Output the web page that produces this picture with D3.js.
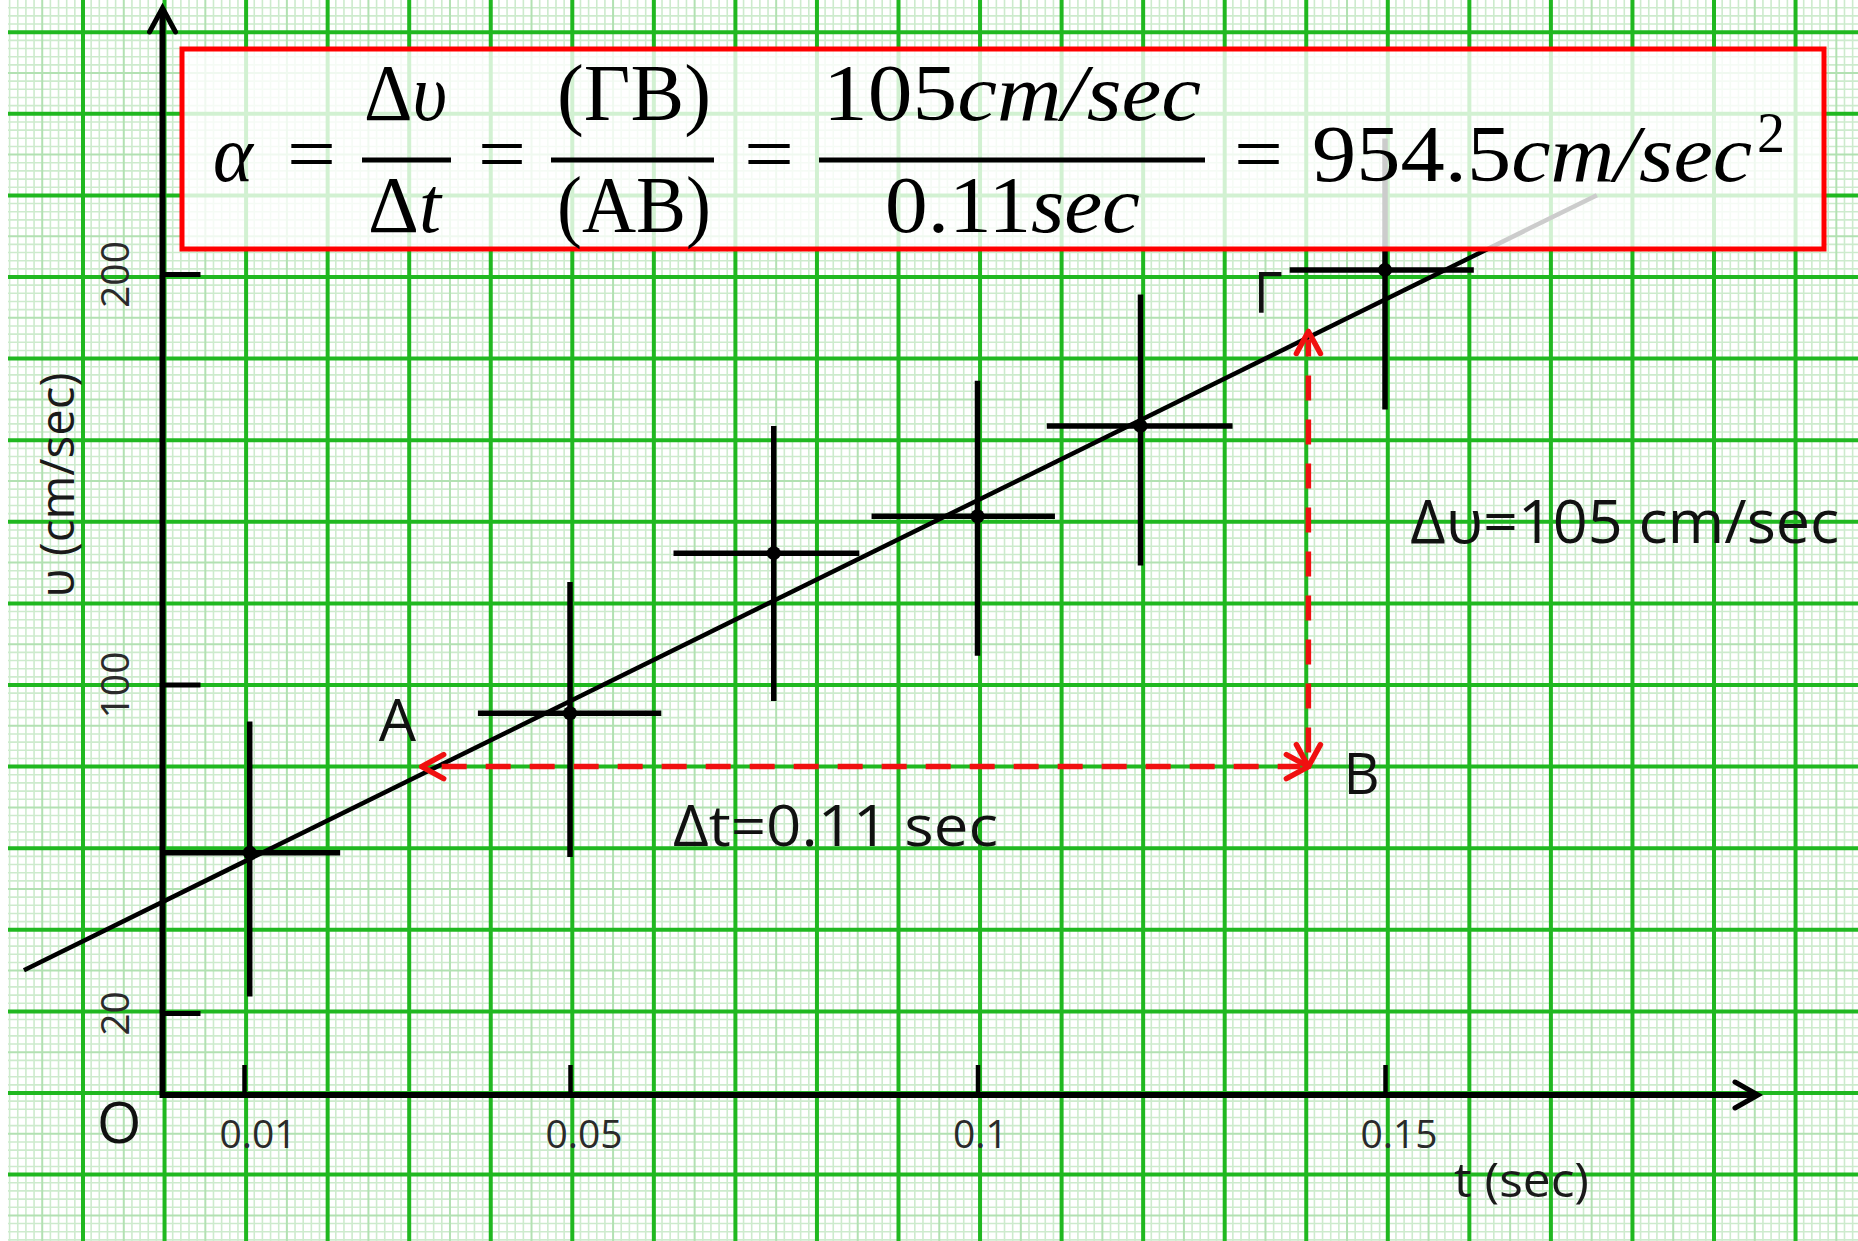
<!DOCTYPE html>
<html><head><meta charset="utf-8">
<script src="https://cdn.jsdelivr.net/npm/d3@7/dist/d3.min.js"></script>
<style>html,body{margin:0;padding:0;background:#fff;} svg{display:block;}</style>
</head><body>
<svg id="chart" width="1858" height="1241"></svg>
<script>
// ---------- data ----------
const times  = [0.0107, 0.05, 0.075, 0.1, 0.12, 0.15];
const speeds = [59, 93, 132, 141, 163, 201];
const tLow   = [0.0, 0.0387, 0.0627, 0.087, 0.1085, 0.1383];
const tHigh  = [0.0218, 0.0612, 0.0855, 0.1095, 0.1313, 0.1609];
const vLow   = [24, 58, 96, 107, 129, 167];
const vHigh  = [91, 125, 163, 174, 195, 233];
const fitT   = [-0.017, 0.176];
const fitV   = [30.4, 219.2];
const xTicks = [0.01, 0.05, 0.1, 0.15];
const xTickLabels = ["0.01", "0.05", "0.1", "0.15"];
const yTicks = [20, 100, 200];
const yTickLabels = ["20", "100", "200"];
const triT = [0.0318, 0.1406, 0.1406];   // A, B, Γ-side
const triV = [80, 80, 186];
const triNames = ["A", "B", "Γ"];
const dvLabel = "Δυ=105 cm/sec";
const dtLabel = "Δt=0.11 sec";
const xTitle = "t (sec)";
const yTitle = "υ (cm/sec)";

// ---------- setup ----------
const W = 1858, H = 1241;
const svg = d3.select("#chart");
const x = d3.scaleLinear().domain([0, 0.2]).range([162.5, 162.5 + 1630]);
const y = d3.scaleLinear().domain([0, 260]).range([1095, 1095 - 260 * 4.105]);
const sans = "'Open Sans', 'Noto Sans', sans-serif";
const serif = "'Liberation Serif', 'Times New Roman', serif";

// ---------- graph paper ----------
const paper = svg.append("g");
paper.append("rect").attr("width", W).attr("height", H).attr("fill", "#fff");
const left = 8, px0 = 83, py0 = 1093, pitchX = 81.55, pitchY = 81.6;
const gx = {minor: [], medium: [], major: []}, gy = {minor: [], medium: [], major: []};
for (let i = -20; i < 260; i++) {
  const xx = px0 + i * pitchX / 10;
  if (xx < left || xx > W) continue;
  (i % 10 === 0 ? gx.major : (i % 5 === 0 ? gx.medium : gx.minor)).push(xx);
}
for (let i = -40; i < 160; i++) {
  const yy = py0 - i * pitchY / 10;
  if (yy < 0 || yy > H) continue;
  (i % 10 === 0 ? gy.major : (i % 5 === 0 ? gy.medium : gy.minor)).push(yy);
}
const gstyle = {minor: ["#cdebcd", 1.6], medium: ["#b2e1b2", 2], major: ["#20b820", 4]};
["minor", "medium", "major"].forEach(k => {
  paper.selectAll(null).data(gx[k]).enter().append("line")
    .attr("x1", d => d).attr("x2", d => d).attr("y1", 0).attr("y2", H)
    .attr("stroke", gstyle[k][0]).attr("stroke-width", gstyle[k][1]);
  paper.selectAll(null).data(gy[k]).enter().append("line")
    .attr("x1", left).attr("x2", W).attr("y1", d => d).attr("y2", d => d)
    .attr("stroke", gstyle[k][0]).attr("stroke-width", gstyle[k][1]);
});

// ---------- fit line & data ----------
const plot = svg.append("g");
plot.append("path")
  .datum(fitT.map((t, i) => [t, fitV[i]]))
  .attr("d", d3.line().x(d => x(d[0])).y(d => y(d[1])))
  .attr("stroke", "#000").attr("stroke-width", 4.5).attr("fill", "none");
const pts = times.map((t, i) => ({t, v: speeds[i], tl: tLow[i], th: tHigh[i], vl: vLow[i], vh: vHigh[i]}));
plot.selectAll(".ev").data(pts).enter().append("line")
  .attr("x1", d => x(d.t)).attr("x2", d => x(d.t)).attr("y1", d => y(d.vl)).attr("y2", d => y(d.vh))
  .attr("stroke", "#000").attr("stroke-width", 5.5);
plot.selectAll(".eh").data(pts).enter().append("line")
  .attr("x1", d => x(d.tl)).attr("x2", d => x(d.th)).attr("y1", d => y(d.v)).attr("y2", d => y(d.v))
  .attr("stroke", "#000").attr("stroke-width", 5.5);
plot.selectAll(".pt").data(pts).enter().append("circle")
  .attr("cx", d => x(d.t)).attr("cy", d => y(d.v)).attr("r", 7).attr("fill", "#000");

// ---------- axes ----------
const ax = svg.append("g");
const x0 = x(0), y0 = y(0);
ax.append("line").attr("x1", x0).attr("x2", 1758).attr("y1", y0).attr("y2", y0)
  .attr("stroke", "#000").attr("stroke-width", 6);
ax.append("line").attr("x1", x0).attr("x2", x0).attr("y1", y0 + 3).attr("y2", 9)
  .attr("stroke", "#000").attr("stroke-width", 6);
ax.append("path").attr("d", `M1735,${y0 - 13} L1758,${y0} L1735,${y0 + 13}`)
  .attr("fill", "none").attr("stroke", "#000").attr("stroke-width", 5).attr("stroke-linecap", "round");
ax.append("path").attr("d", `M${x0 - 13},32 L${x0},8 L${x0 + 13},32`)
  .attr("fill", "none").attr("stroke", "#000").attr("stroke-width", 5).attr("stroke-linecap", "round");

const xAxis = d3.axisBottom(x).tickValues(xTicks).tickFormat((d, i) => xTickLabels[i]).tickSize(-30);
const xg = ax.append("g").attr("transform", `translate(0,${y0})`).call(xAxis);
xg.select(".domain").remove();
xg.selectAll(".tick line").attr("stroke", "#000").attr("stroke-width", 4.5);
xg.selectAll(".tick text").attr("font-family", sans).attr("font-size", 39).attr("fill", "#2a2a2a")
  .attr("text-anchor", "start").attr("x", -25).attr("y", 53).attr("dy", 0);

const yAxis = d3.axisLeft(y).tickValues(yTicks).tickFormat((d, i) => yTickLabels[i]).tickSize(-38);
const yg = ax.append("g").attr("transform", `translate(${x0},0)`).call(yAxis);
yg.select(".domain").remove();
yg.selectAll(".tick line").attr("stroke", "#000").attr("stroke-width", 5);
yg.selectAll(".tick text").attr("font-family", sans).attr("font-size", 39).attr("fill", "#2a2a2a")
  .attr("text-anchor", "middle").attr("transform", "rotate(-90)").attr("x", 0).attr("y", -34).attr("dy", 0);

ax.append("text").text("O").attr("x", 97).attr("y", 1143)
  .attr("font-family", sans).attr("font-size", 57).attr("fill", "#111");
ax.append("text").text(xTitle).attr("x", 1454).attr("y", 1197)
  .attr("font-family", sans).attr("font-size", 48).attr("fill", "#1a1a1a")
  .attr("textLength", 135).attr("lengthAdjust", "spacingAndGlyphs");
ax.append("text").text(yTitle).attr("transform", "translate(74,485) rotate(-90)")
  .attr("text-anchor", "middle")
  .attr("font-family", sans).attr("font-size", 47).attr("fill", "#1a1a1a")
  .attr("textLength", 225).attr("lengthAdjust", "spacingAndGlyphs");

// ---------- slope triangle ----------
const red = "#f01010";
const ann = svg.append("g");
const A = {t: triT[0], v: triV[0]}, B = {t: triT[1], v: triV[1]}, G = {t: triT[2], v: triV[2]};
ann.append("line").attr("x1", x(A.t) + 8).attr("x2", x(B.t) - 8).attr("y1", y(A.v)).attr("y2", y(B.v))
  .attr("stroke", red).attr("stroke-width", 5.5).attr("stroke-dasharray", "25 19").attr("stroke-dashoffset", -12);
ann.append("line").attr("x1", x(B.t)).attr("x2", x(G.t)).attr("y1", y(B.v) - 8).attr("y2", y(G.v) + 8)
  .attr("stroke", red).attr("stroke-width", 5.5).attr("stroke-dasharray", "25 19").attr("stroke-dashoffset", -6);
const chev = [
  `M${x(A.t) + 22},${y(A.v) - 12} L${x(A.t)},${y(A.v)} L${x(A.t) + 22},${y(A.v) + 12}`,
  `M${x(B.t) - 22},${y(B.v) - 12} L${x(B.t)},${y(B.v)} L${x(B.t) - 22},${y(B.v) + 12}`,
  `M${x(B.t) - 12},${y(B.v) - 22} L${x(B.t)},${y(B.v)} L${x(B.t) + 12},${y(B.v) - 22}`,
  `M${x(G.t) - 12},${y(G.v) + 22} L${x(G.t)},${y(G.v)} L${x(G.t) + 12},${y(G.v) + 22}`
];
ann.selectAll(".chev").data(chev).enter().append("path").attr("d", d => d)
  .attr("fill", "none").attr("stroke", red).attr("stroke-width", 5.5)
  .attr("stroke-linecap", "round").attr("stroke-linejoin", "round");

const nameOffsets = [[-43, -26, 59], [35, 27, 56], [-55, -18, 56]];
ann.selectAll(".nm").data(triNames).enter().append("text").text(d => d)
  .attr("x", (d, i) => x(triT[i]) + nameOffsets[i][0])
  .attr("y", (d, i) => y(triV[i]) + nameOffsets[i][1])
  .attr("font-family", sans).attr("font-size", (d, i) => nameOffsets[i][2]).attr("fill", "#111");
ann.append("text").text(dvLabel).attr("x", x(B.t) + 102).attr("y", 543)
  .attr("font-family", sans).attr("font-size", 60).attr("fill", "#111")
  .attr("textLength", 429).attr("lengthAdjust", "spacingAndGlyphs");
ann.append("text").text(dtLabel).attr("x", 673).attr("y", 846)
  .attr("font-family", sans).attr("font-size", 57).attr("fill", "#111")
  .attr("textLength", 325).attr("lengthAdjust", "spacingAndGlyphs");

// ---------- formula box ----------
const box = svg.append("g");
box.append("rect").attr("x", 182).attr("y", 49).attr("width", 1642).attr("height", 200)
  .attr("fill", "rgba(255,255,255,0.8)").attr("stroke", "#ff0000").attr("stroke-width", 5);

const fs = 80;
const pieces = [
  {x: 213, y: 181, len: 40, segs: [["α", true]]},
  {x: 287, y: 181, len: 49, segs: [["=", false]]},
  {x: 364, y: 120, len: 83, segs: [["Δ", false], ["υ", true]]},
  {x: 368, y: 232, len: 73, segs: [["Δ", false], ["t", true]]},
  {x: 478, y: 181, len: 48, segs: [["=", false]]},
  {x: 557, y: 120, len: 154, segs: [["(ΓB)", false]]},
  {x: 557, y: 232, len: 154, segs: [["(AB)", false]]},
  {x: 744, y: 181, len: 50, segs: [["=", false]]},
  {x: 823, y: 120, len: 378, segs: [["105", false], ["cm/sec", true]]},
  {x: 885, y: 232, len: 255, segs: [["0.11", false], ["sec", true]]},
  {x: 1234, y: 181, len: 49, segs: [["=", false]]},
  {x: 1312, y: 181, len: 440, segs: [["954.5", false], ["cm/sec", true]]}
];
pieces.forEach(p => {
  const t = box.append("text").attr("x", p.x).attr("y", p.y)
    .attr("font-family", serif).attr("font-size", fs).attr("fill", "#000")
    .attr("textLength", p.len).attr("lengthAdjust", "spacingAndGlyphs");
  p.segs.forEach(s => t.append("tspan").text(s[0]).attr("font-style", s[1] ? "italic" : "normal"));
});
box.append("text").text("2").attr("x", 1757).attr("y", 152)
  .attr("font-family", serif).attr("font-size", 56).attr("fill", "#000");
const bars = [[362, 451], [551, 714], [819, 1205]];
box.selectAll(".bar").data(bars).enter().append("line")
  .attr("x1", d => d[0]).attr("x2", d => d[1]).attr("y1", 160).attr("y2", 160)
  .attr("stroke", "#000").attr("stroke-width", 5);
</script>
</body></html>
